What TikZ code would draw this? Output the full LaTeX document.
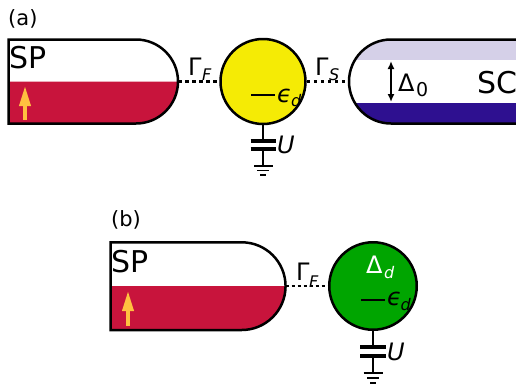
\documentclass[tikz,border=0pt]{standalone}
\usepackage{fontspec}
\setmainfont{DejaVu Sans}
\usetikzlibrary{arrows.meta}
\definecolor{spred}{HTML}{C8143C}
\definecolor{dotyellow}{HTML}{F5EB05}
\definecolor{dotgreen}{HTML}{00A500}
\definecolor{sclight}{HTML}{D5D0E8}
\definecolor{scdark}{HTML}{2E1090}
\definecolor{spinorange}{HTML}{FFC040}
\tikzset{
  x=1pt,y=-1pt,
  outline/.style={draw=black,line width=2.5pt},
  quantumdot/.style={circle,outline,inner sep=0pt},
  big/.style={font=\fontsize{30}{30}\selectfont,anchor=base west,inner sep=0pt},
  mid/.style={font=\fontsize{24}{24}\selectfont,anchor=base west,inner sep=0pt},
  midit/.style={font=\fontsize{24}{24}\selectfont\itshape,anchor=base west,inner sep=0pt},
  sub/.style={font=\fontsize{16}{16}\selectfont\itshape,anchor=base west,inner sep=0pt},
  panel/.style={font=\fontsize{21}{21}\selectfont,anchor=base west,inner sep=0pt},
  spin/.style={draw=spinorange,line width=3.6pt,-{Triangle[width=11pt,length=20pt]}},
  wire/.style={draw=black,line width=2pt},
  plate/.style={draw=black,line width=4pt},
  gnd/.style={draw=black,line width=1.5pt},
  tunnelA/.style={draw=black,line width=2.4pt,dash pattern=on 3.5pt off 3.5pt},
  tunnelB/.style={draw=black,line width=1.3pt,dash pattern=on 3pt off 3pt},
}
\begin{document}
\begin{tikzpicture}
\clip (0,0) rectangle (516,391);
\useasboundingbox (0,0) rectangle (516,391);
% (a) spin-polarised lead
\fill[spred] (8.5,81.5) -- (178,81.5) arc[start angle=0,end angle=90,radius=42] -- (8.5,123.5) -- cycle;
\path[outline] (8.5,39.5) -- (136,39.5) arc[start angle=-90,end angle=90,radius=42] -- (8.5,123.5) -- cycle;
\coordinate (spAend) at (178,81.5);
\coordinate (spinAa) at (25,120);
\coordinate (spinAb) at (25,86);
\draw[spin] (spinAa) -- (spinAb);
\node[big] (spAlabel) at (9,68) {SP};
% (a) dot
\node[quantumdot,fill=dotyellow,minimum size=85pt] (dotA) at (263,81.5) {};
% (a) superconductor
\begin{scope}
\clip (520,39.5) -- (391,39.5) arc[start angle=-90,end angle=-270,radius=42] -- (520,123.5) -- cycle;
\fill[sclight] (340,39) rectangle (520,60);
\fill[scdark] (340,102.5) rectangle (520,124);
\end{scope}
\path[outline] (520,39.5) -- (391,39.5) arc[start angle=-90,end angle=-270,radius=42] -- (520,123.5);
\coordinate (scAstart) at (349,81.5);
\coordinate (gapT) at (391,61);
\coordinate (gapB) at (391,102);
\draw[draw=black,line width=1.6pt,{Latex[length=8pt,width=7pt]}-{Latex[length=8pt,width=7pt]}] (gapT) -- (gapB);
\node[mid] (deltaA) at (398,91) {Δ};
\node[font=\fontsize{19}{19}\selectfont,anchor=base west,inner sep=0pt] (deltaAs) at (416,96) {0};
\node[big] (scLabel) at (477,93) {SC};
% (a) tunnel
\draw[tunnelA] (spAend) -- (dotA.west);
\draw[tunnelA] (dotA.east) -- (scAstart);
\node[mid] (gFa) at (188,75) {Γ};
\node[sub] (gFas) at (202,80.5) {F};
\node[mid] (gSa) at (315,75) {Γ};
\node[sub] (gSas) at (329,80.5) {S};
\node[panel] (la) at (8,25) {(a)};
% (a) level
\coordinate (lvlAa) at (251,95);
\coordinate (lvlAb) at (275,95);
\draw[wire] (lvlAa) -- (lvlAb);
\node[midit] (epsA) at (277,102) {ϵ};
\node[sub] (epsAs) at (291,106.5) {d};
% (a) capacitor
\coordinate (capA1) at (263,141);
\coordinate (capA2) at (263,149);
\coordinate (gA1) at (263,166);
\draw[wire] (dotA.south) -- (capA1);
\draw[wire] (capA2) -- (gA1);
\draw[plate] (250.5,141) -- (276,141);
\draw[plate] (250.5,149) -- (276,149);
\draw[gnd] (254,166) -- (273,166);
\draw[gnd] (257,170.5) -- (269,170.5);
\draw[gnd] (260,175) -- (266,175);
\node[midit] (uA) at (277,153) {U};
% (b) spin-polarised lead
\fill[spred] (110.7,286) -- (285.7,286) arc[start angle=0,end angle=90,radius=44] -- (110.7,330) -- cycle;
\path[outline] (110.7,242.3) -- (241.7,242.3) arc[start angle=-90,end angle=90,radius=43.85] -- (110.7,330) -- cycle;
\coordinate (spBend) at (285.7,286);
\coordinate (spinBa) at (128,325.5);
\coordinate (spinBb) at (128,291);
\draw[spin] (spinBa) -- (spinBb);
\node[big] (spBlabel) at (111,272) {SP};
\node[panel] (lb) at (111,226) {(b)};
% (b) dot
\node[quantumdot,fill=dotgreen,minimum size=87.5pt] (dotB) at (373,286) {};
\draw[tunnelB] (spBend) -- (dotB.west);
\node[mid] (gFb) at (296,280) {Γ};
\node[sub] (gFbs) at (309,287) {F};
\node[mid,text=white] (deltaB) at (366,273) {Δ};
\node[sub,text=white] (deltaBs) at (384,278) {d};
\coordinate (lvlBa) at (361,300);
\coordinate (lvlBb) at (385,300);
\draw[wire] (lvlBa) -- (lvlBb);
\node[midit] (epsB) at (387,305) {ϵ};
\node[sub] (epsBs) at (400.5,310) {d};
% (b) capacitor
\coordinate (capB1) at (373,347);
\coordinate (capB2) at (373,356);
\coordinate (gB1) at (373,373);
\draw[wire] (dotB.south) -- (capB1);
\draw[wire] (capB2) -- (gB1);
\draw[plate] (360,347) -- (386,347);
\draw[plate] (360,356) -- (386,356);
\draw[gnd] (363.5,373) -- (383,373);
\draw[gnd] (367,378) -- (379,378);
\draw[gnd] (370,383) -- (376,383);
\node[midit] (uB) at (387,360) {U};
\end{tikzpicture}
\end{document}
